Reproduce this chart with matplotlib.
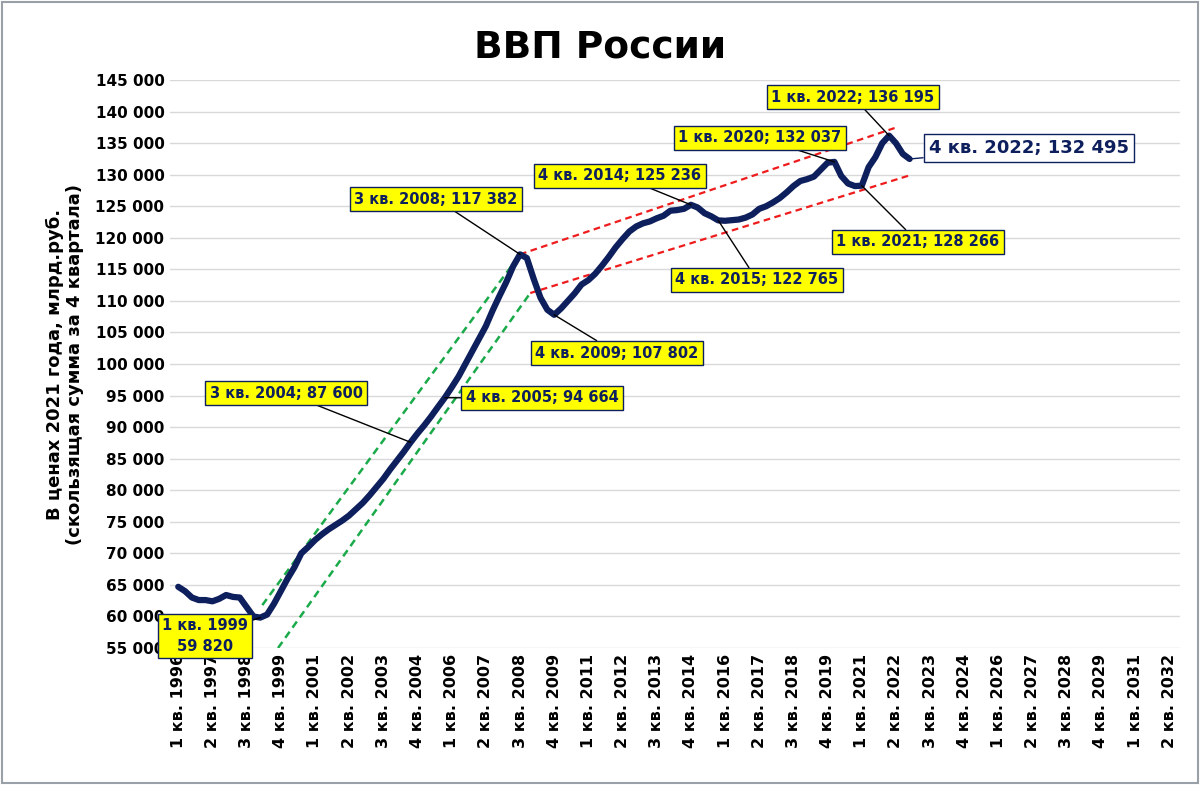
import matplotlib
matplotlib.use("Agg")
import matplotlib.pyplot as plt

years = list(range(1996, 2023))
gdp = [64700, 64000, 63000, 62600,
       62600, 62400, 62800, 63400,
       63100, 63000, 61500, 60000,
       59820, 60300, 62000, 64000,
       66000, 67800, 70000, 71000,
       72100, 73000, 73800, 74500,
       75200, 76000, 77000, 78000,
       79200, 80500, 81800, 83300,
       84700, 86100, 87600, 89000,
       90300, 91700, 93200, 94664,
       96300, 98000, 100000, 102000,
       104000, 106000, 108500, 110800,
       113000, 115500, 117382, 116800,
       113500, 110500, 108600, 107802,
       108800, 110000, 111200, 112600,
       113300, 114300, 115600, 117000,
       118500, 119800, 121000, 121800,
       122300, 122600, 123100, 123500,
       124300, 124400, 124600, 125236,
       124800, 123900, 123400, 122765,
       122700, 122800, 122900, 123200,
       123700, 124600, 125000, 125600,
       126300, 127200, 128200, 129000,
       129300, 129700, 130800, 131900,
       132037, 129800, 128600, 128200,
       128266, 131200, 132800, 135000,
       136195, 135000, 133300, 132495]

n_quarters = 146
tick_labels = [f"{q % 4 + 1} кв. {1996 + q // 4}" for q in range(0, n_quarters, 5)]
tick_pos = list(range(0, n_quarters, 5))

green_lines = [([12.3, 50.0], [61800, 117382]), ([14.6, 51.5], [55000, 111250])]
red_lines = [([50.0, 104.8], [117382, 137400]), ([51.5, 107.3], [111250, 130000])]

# (quarter index, text, box center px x, px y from top)
notes = [
    (104, "1 кв. 2022; 136 195", 853, 97),
    (96, "1 кв. 2020; 132 037", 760, 138),
    (75, "4 кв. 2014; 125 236", 620, 176),
    (50, "3 кв. 2008; 117 382", 436, 199),
    (100, "1 кв. 2021; 128 266", 918, 242),
    (79, "4 кв. 2015; 122 765", 757, 280),
    (55, "4 кв. 2009; 107 802", 617, 353),
    (34, "3 кв. 2004; 87 600", 286, 393),
    (39, "4 кв. 2005; 94 664", 542, 398),
    (12, "1 кв. 1999\n59 820", 205, 636),
]

navy = "#0d1f5c"
fig = plt.figure(figsize=(12, 7.85), dpi=100)
fig.patches.append(plt.Rectangle((0.002, 0.002), 0.996, 0.996, transform=fig.transFigure,
                                 fill=False, edgecolor="#9aa0a8", lw=1.5))
ax = fig.add_axes([0.1417, 0.1745, 0.8413, 0.7235])
x = list(range(len(gdp)))
for xs, ys in green_lines:
    ax.plot(xs, ys, color="#1aaa4a", ls=(0, (3, 2)), lw=1.8, zorder=2)
for xs, ys in red_lines:
    ax.plot(xs, ys, color="#ee1c1c", ls=(0, (3, 2)), lw=1.6, zorder=2)
ax.plot(x, gdp, color=navy, lw=4.5, zorder=3, solid_capstyle="round")

ax.set_xlim(-1.2, 146.5)
ax.set_ylim(55000, 145000)
ax.set_yticks(range(55000, 145001, 5000))
ax.set_yticklabels([f"{v:,}".replace(",", " ") for v in range(55000, 145001, 5000)],
                   fontsize=11, fontweight="bold")
ax.set_xticks(tick_pos)
ax.set_xticklabels(tick_labels, rotation=90, fontsize=11.5, fontweight="bold")
ax.grid(axis="y", color="#d9d9d9", lw=1)
ax.set_axisbelow(True)
for s in ax.spines.values():
    s.set_visible(False)
ax.tick_params(length=0, pad=4)
ax.set_ylabel("В ценах 2021 года, млрд.руб.\n(скользящая сумма за 4 квартала)",
              fontsize=13, fontweight="bold", labelpad=8)
fig.text(0.5, 0.94, "ВВП России", ha="center", va="center", fontsize=27, fontweight="bold")

for q, txt, px, py in notes:
    ax.annotate(txt, xy=(q, gdp[q]), xytext=(px, 785 - py), textcoords="figure pixels",
                ha="center", va="center", fontsize=10.5, fontweight="bold", color=navy,
                bbox=dict(boxstyle="square,pad=0.3", fc="#ffff00", ec=navy, lw=1),
                arrowprops=dict(arrowstyle="-", color="black", lw=1, shrinkA=0, shrinkB=0),
                zorder=5, linespacing=1.5)
ax.annotate("4 кв. 2022; 132 495", xy=(107, gdp[107]), xytext=(1029, 785 - 148),
            textcoords="figure pixels", ha="center", va="center", fontsize=13,
            fontweight="bold", color=navy,
            bbox=dict(boxstyle="square,pad=0.3", fc="white", ec=navy, lw=1),
            arrowprops=dict(arrowstyle="-", color=navy, lw=1, shrinkA=0, shrinkB=0), zorder=5)

fig.savefig("out.png", dpi=100, facecolor="white")
